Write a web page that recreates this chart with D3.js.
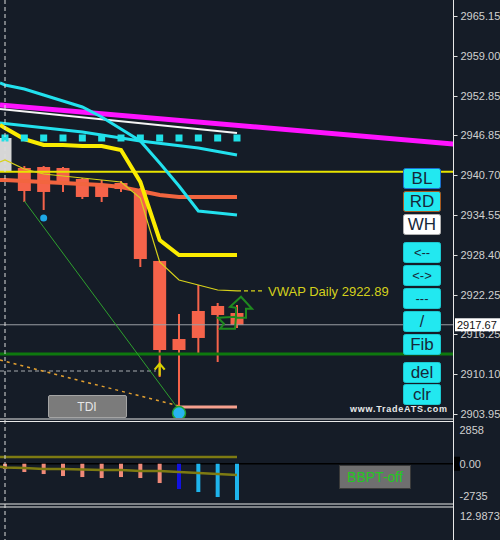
<!DOCTYPE html>
<html><head><meta charset="utf-8">
<script src="https://cdn.jsdelivr.net/npm/d3@7"></script>
<style>html,body{margin:0;padding:0;background:#151c27;overflow:hidden;} svg{display:block;}</style>
</head><body><div id="chart"></div>
<script>
// ---------- DATA ----------
const priceTicks = [2965.15, 2959.00, 2952.85, 2946.85, 2940.70, 2934.55, 2928.40, 2922.25, 2916.25, 2910.10, 2903.95];
const subTicks = [2858, 0, -2735];
const subTickLabels = ["2858", "0.00", "-2735"];
const thirdLabel = "12.9873";
const lastPrice = 2917.67;

const candleIdx   = [0,1,2,3,4,5,6,7,8,9,10,11,12];
const candleOpen  = [2941.16, 2941.78, 2941.93, 2941.78, 2940.09, 2939.32, 2939.47, 2938.39, 2927.48, 2915.48, 2919.79, 2920.56, 2919.48];
const candleClose = [2946.39, 2938.24, 2938.09, 2939.47, 2937.32, 2937.32, 2938.55, 2927.78, 2913.79, 2913.79, 2915.64, 2919.17, 2917.67];
const candleHigh  = [2946.39, 2942.08, 2942.08, 2941.93, 2940.24, 2939.93, 2939.78, 2938.70, 2927.48, 2919.33, 2923.79, 2921.02, 2920.71];
const candleLow   = [2941.16, 2936.55, 2935.32, 2938.09, 2937.01, 2936.55, 2938.09, 2926.55, 2909.64, 2905.03, 2913.33, 2911.95, 2917.17];

const magentaIdx = [-0.26, 23.2];
const magentaVal = [2951.46, 2945.47];
const whiteIdx = [-0.26, 12];
const whiteVal = [2950.85, 2947.16];
const seriesIdx = [-0.26, 0,1,2,3,4,5,6,7,8,9,10,11,12];
const cyanFastVal = [2954.85, 2954.54, 2953.92, 2953.00, 2952.08, 2951.16, 2949.62, 2947.77, 2945.93, 2942.54, 2939.01, 2935.17, 2934.86, 2934.55];
const cyanSlowIdx = [-0.26, 4, 7, 10, 12];
const cyanSlowVal = [2948.70, 2947.31, 2945.93, 2944.85, 2943.77];
const cyanDotVal = 2946.39;
const yellowVal = [2948.39, 2947.93, 2946.23, 2945.31, 2945.31, 2945.16, 2945.16, 2944.54, 2939.63, 2930.71, 2928.40, 2928.40, 2928.40, 2928.40];
const vwapVal = [2942.70, 2943.01, 2941.62, 2940.85, 2940.55, 2940.24, 2939.93, 2939.63, 2937.16, 2927.32, 2924.55, 2923.78, 2923.02, 2922.89];
const vwapLast = 2922.89;
const orangeVal = [2939.93, 2939.93, 2939.78, 2939.63, 2939.47, 2939.32, 2939.16, 2938.86, 2938.24, 2937.63, 2937.32, 2937.32, 2937.32, 2937.32];

const yellowLevel = 2941.2;
const greenLevel = 2913.18;
const greyDashLevel = 2910.56;
const orangeDotIdx = [-0.26, 9];
const orangeDotVal = [2912.25, 2905.18];
const greenDiagIdx = [1, 9];
const greenDiagVal = [2936.70, 2904.57];
const lowLineIdx = [9, 12];
const lowLineVal = 2905.03;

const histVal = [-449, -703, -873, -1042, -1127, -1212, -1127, -1212, -1636, -2144, -2398, -2822, -3076];
const histColor = ["#f08a78","#f08a78","#f08a78","#f08a78","#f08a78","#f08a78","#f08a78","#f08a78","#f08a78","#1212e0","#1eb4ec","#1eb4ec","#1eb4ec"];
const oliveLevel = 568;
const oliveSignal = [-254, -322, -364, -449, -449, -491, -534, -534, -619, -619, -703, -788, -873, -958];

const buttonLabels = ["BL","RD","WH","<--","<->","---","/","Fib","del","clr"];

// ---------- SETUP ----------
const W = 500, H = 540, AX = 453;
const svg = d3.select("#chart").append("svg").attr("width", W).attr("height", H);
svg.append("rect").attr("width", W).attr("height", H).attr("fill", "#151c27");

const x = d3.scaleLinear().domain([0, 12]).range([5, 237]);
const y = d3.scaleLinear().domain([2903.95, 2965.15]).range([414, 16]);
const ys = d3.scaleLinear().domain([-2735, 2858]).range([496, 430]);

const defs = svg.append("defs");
defs.append("clipPath").attr("id","main").append("rect").attr("x",0).attr("y",0).attr("width",AX).attr("height",418);
defs.append("clipPath").attr("id","sub").append("rect").attr("x",0).attr("y",422).attr("width",AX).attr("height",82);

const g = svg.append("g").attr("clip-path","url(#main)");
const line = d3.line().x(d => x(d[0])).y(d => y(d[1]));
const zip = (a, b) => a.map((v, i) => [v, b[i]]);

// candles
candleIdx.forEach((ci, i) => {
  const col = i === 0 ? "#d6d6d6" : "#f5634a";
  g.append("line").attr("x1", x(ci)).attr("x2", x(ci))
    .attr("y1", y(candleHigh[i])).attr("y2", y(candleLow[i]))
    .attr("stroke", col).attr("stroke-width", 2);
  const top = y(Math.max(candleOpen[i], candleClose[i]));
  const bot = y(Math.min(candleOpen[i], candleClose[i]));
  g.append("rect").attr("x", x(ci) - 6.5).attr("width", 13)
    .attr("y", top).attr("height", Math.max(1, bot - top)).attr("fill", col);
});

// horizontal levels
g.append("line").attr("x1",0).attr("x2",AX).attr("y1",y(yellowLevel)).attr("y2",y(yellowLevel))
  .attr("stroke","#e8e400").attr("stroke-width",2);
g.append("line").attr("x1",0).attr("x2",AX).attr("y1",y(greenLevel)).attr("y2",y(greenLevel))
  .attr("stroke","#0e780e").attr("stroke-width",3);
g.append("line").attr("x1",0).attr("x2",AX).attr("y1",y(lastPrice)).attr("y2",y(lastPrice))
  .attr("stroke","#9a9ea4").attr("stroke-width",1);
g.append("line").attr("x1",0).attr("x2",x(7.8)).attr("y1",y(greyDashLevel)).attr("y2",y(greyDashLevel))
  .attr("stroke","#a8abb0").attr("stroke-width",1).attr("stroke-dasharray","4,3");

// orange dotted & green diagonal
g.append("path").attr("d", line(zip(orangeDotIdx, orangeDotVal))).attr("fill","none")
  .attr("stroke","#e3a030").attr("stroke-width",1.5).attr("stroke-dasharray","3,4");
g.append("path").attr("d", line(zip(greenDiagIdx, greenDiagVal))).attr("fill","none")
  .attr("stroke","#2ea02e").attr("stroke-width",1);
// low line
g.append("line").attr("x1",x(lowLineIdx[0])).attr("x2",x(lowLineIdx[1]))
  .attr("y1",y(lowLineVal)).attr("y2",y(lowLineVal)).attr("stroke","#f6a08e").attr("stroke-width",3);

// indicator lines
g.append("path").attr("d", line(zip(seriesIdx, orangeVal))).attr("fill","none")
  .attr("stroke","#f2653f").attr("stroke-width",4);
g.append("path").attr("d", line(zip(whiteIdx, whiteVal))).attr("fill","none")
  .attr("stroke","#f4f4f4").attr("stroke-width",2);
g.append("path").attr("d", line(zip(magentaIdx, magentaVal))).attr("fill","none")
  .attr("stroke","#ff12ff").attr("stroke-width",5);
g.append("path").attr("d", line(zip(seriesIdx, cyanFastVal))).attr("fill","none")
  .attr("stroke","#22e1ee").attr("stroke-width",3);
g.append("path").attr("d", line(zip(cyanSlowIdx, cyanSlowVal))).attr("fill","none")
  .attr("stroke","#22e1ee").attr("stroke-width",3);
g.append("path").attr("d", line(zip(seriesIdx, yellowVal))).attr("fill","none")
  .attr("stroke","#fbec00").attr("stroke-width",4);
g.append("path").attr("d", line(zip(seriesIdx, vwapVal))).attr("fill","none")
  .attr("stroke","#d8d21a").attr("stroke-width",1.2);
g.append("line").attr("x1",x(12)).attr("x2",x(13.35)).attr("y1",y(vwapLast)).attr("y2",y(vwapLast))
  .attr("stroke","#d8d21a").attr("stroke-width",1.2).attr("stroke-dasharray","4,3");
g.append("text").attr("x", 268).attr("y", y(vwapLast) + 5)
  .attr("font-family","Liberation Sans, Arial, sans-serif").attr("font-size",13)
  .attr("fill","#d4d01c").text("VWAP Daily " + vwapLast.toFixed(2));

// cyan squares
candleIdx.forEach(ci => {
  g.append("rect").attr("x", x(ci) - 3.5).attr("y", y(cyanDotVal) - 3.5)
    .attr("width", 7).attr("height", 7).attr("fill", "#20e0e6");
});

// dots
g.append("circle").attr("cx", x(2)).attr("cy", y(2934.09)).attr("r", 3.5).attr("fill", "#1ea8e6");
g.append("circle").attr("cx", x(9)).attr("cy", y(2904.10)).attr("r", 6.5)
  .attr("fill", "#28b4f0").attr("stroke","#22a030").attr("stroke-width",1.5);

// yellow up arrow under candle 8
{
  const ax = x(8), at = y(2911.69);
  g.append("path").attr("d", `M${ax-5},${at+6} L${ax},${at} L${ax+5},${at+6} M${ax},${at} L${ax},${at+12}`)
    .attr("fill","none").attr("stroke","#d8d000").attr("stroke-width",2.2);
}
// green arrow outlines
{
  const bx = x(12), by = y(lastPrice);
  g.append("path").attr("d",
    `M${bx+4},${by-28} L${bx+15},${by-16} L${bx+9},${by-16} L${bx+9},${by-7} L${bx-1},${by-7} L${bx-1},${by-17} L${bx-7},${by-18} Z`)
    .attr("fill","none").attr("stroke","#1f8a1f").attr("stroke-width",2);
  g.append("path").attr("d",
    `M${bx-19},${by-7} L${bx-1},${by-8} L${bx-2},${by+4} L${bx-17},${by+4} L${bx-13},${by-1} Z`)
    .attr("fill","none").attr("stroke","#1f8a1f").attr("stroke-width",2);
}

// TDI button
svg.append("rect").attr("x",48.5).attr("y",395.5).attr("width",78).attr("height",22).attr("rx",1.5)
  .attr("fill","#7b7b7b").attr("stroke","#a4a4a4");
svg.append("text").attr("x",87).attr("y",411).attr("text-anchor","middle")
  .attr("font-family","Liberation Sans, Arial, sans-serif").attr("font-size",12).attr("fill","#e6e6e6").text("TDI");

// right buttons
const btnTops = [168, 191, 214, 242, 265, 288, 311, 334, 362, 384];
const btnFill = ["#22e8f0","#22e8f0","#ffffff","#22e8f0","#22e8f0","#22e8f0","#22e8f0","#22e8f0","#22e8f0","#22e8f0"];
const btnStroke = ["#1a6fd0","#a85a20","#b0b0b0","#1bc8d0","#1bc8d0","#1bc8d0","#1bc8d0","#1bc8d0","#1bc8d0","#1bc8d0"];
const btnSize = [17,17,17,13,13,13,16,17,17,17];
buttonLabels.forEach((lb, i) => {
  svg.append("rect").attr("x",403.5).attr("y",btnTops[i]+0.5).attr("width",37).attr("height",20).attr("rx",2)
    .attr("fill",btnFill[i]).attr("stroke",btnStroke[i]).attr("stroke-width",1);
  svg.append("text").attr("x",422).attr("y",btnTops[i]+10).attr("text-anchor","middle")
    .attr("dominant-baseline","central")
    .attr("font-family","Liberation Sans, Arial, sans-serif").attr("font-size",btnSize[i])
    .attr("fill","#16283a").text(lb);
});
svg.append("text").attr("x",350).attr("y",412).attr("textLength",97)
  .attr("font-family","Liberation Sans, Arial, sans-serif").attr("font-size",9).attr("font-weight","bold")
  .attr("fill","#e8e8e8").text("www.TradeATS.com");

// ---------- SUB PANE ----------
const sg = svg.append("g").attr("clip-path","url(#sub)");
sg.append("line").attr("x1",0).attr("x2",x(12)).attr("y1",ys(oliveLevel)).attr("y2",ys(oliveLevel))
  .attr("stroke","#7d7a12").attr("stroke-width",2.5);
sg.append("line").attr("x1",0).attr("x2",AX).attr("y1",ys(0)).attr("y2",ys(0))
  .attr("stroke","#000").attr("stroke-width",1.5);
candleIdx.forEach((ci, i) => {
  sg.append("rect").attr("x", x(ci) - 2).attr("width", 4)
    .attr("y", ys(0)).attr("height", ys(histVal[i]) - ys(0)).attr("fill", histColor[i]);
});
sg.append("path").attr("d", d3.line().x(d => x(d[0])).y(d => ys(d[1]))(zip(seriesIdx, oliveSignal)))
  .attr("fill","none").attr("stroke","#7d7a12").attr("stroke-width",2.5);

svg.append("rect").attr("x",339.5).attr("y",465.5).attr("width",71).attr("height",23)
  .attr("fill","#6f6f6f").attr("stroke","#3a3a3a");
svg.append("text").attr("x",375).attr("y",477).attr("text-anchor","middle").attr("dominant-baseline","central")
  .attr("font-family","Liberation Sans, Arial, sans-serif").attr("font-size",14).attr("fill","#22c822").text("BBPT-off");

// ---------- SEPARATORS / AXES ----------
[419, 421.5, 504, 507].forEach(yy => {
  svg.append("line").attr("x1",0).attr("x2",AX).attr("y1",yy).attr("y2",yy)
    .attr("stroke","#e8e8e8").attr("stroke-width",1.2);
});
svg.append("line").attr("x1",5).attr("x2",5).attr("y1",0).attr("y2",H)
  .attr("stroke","#dcdcdc").attr("stroke-width",1).attr("stroke-dasharray","4,3");
svg.append("line").attr("x1",AX+0.5).attr("x2",AX+0.5).attr("y1",0).attr("y2",H)
  .attr("stroke","#e8e8e8").attr("stroke-width",1);

const axisFont = "Liberation Sans, Arial, sans-serif";
const mainAxis = d3.axisRight(y).tickValues(priceTicks).tickFormat(d => d.toFixed(2)).tickSize(4).tickPadding(3);
const ag = svg.append("g").attr("transform", `translate(${AX+0.5},0)`).call(mainAxis);
ag.select(".domain").remove();
ag.selectAll("line").attr("stroke","#e0e0e0");
ag.selectAll("text").attr("fill","#d0d0d0").attr("font-family",axisFont).attr("font-size",11);

svg.append("rect").attr("x",AX+1).attr("y",ys(0)-7).attr("width",6).attr("height",14).attr("fill","#000");
const subAxis = d3.axisRight(ys).tickValues(subTicks).tickFormat((d,i) => subTickLabels[i]).tickSize(0).tickPadding(6);
const sag = svg.append("g").attr("transform", `translate(${AX+0.5},0)`).call(subAxis);
sag.select(".domain").remove();
sag.selectAll("text").attr("fill","#d0d0d0").attr("font-family",axisFont).attr("font-size",11);

svg.append("text").attr("x",460).attr("y",520).attr("fill","#d0d0d0")
  .attr("font-family",axisFont).attr("font-size",11).text(thirdLabel);

// last price box
svg.append("rect").attr("x",455).attr("y",y(lastPrice)-6.5).attr("width",46).attr("height",13).attr("fill","#ffffff");
svg.append("text").attr("x",457).attr("y",y(lastPrice)).attr("dominant-baseline","central")
  .attr("fill","#111").attr("font-family",axisFont).attr("font-size",11).text(lastPrice.toFixed(2));
</script></body></html>
